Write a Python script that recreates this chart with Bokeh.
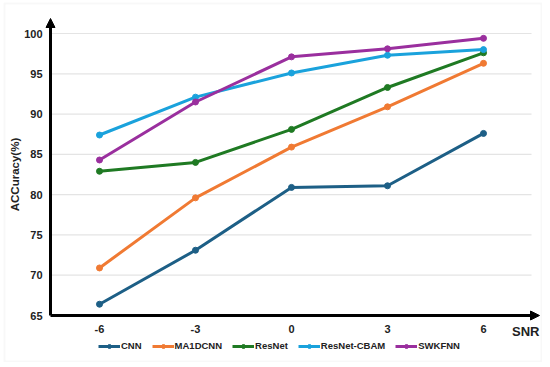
import math
from bokeh.plotting import figure
from bokeh.models import Arrow, NormalHead, Legend, LegendItem, BoxAnnotation
from bokeh.core.properties import value
from bokeh.embed import file_html
from bokeh.resources import INLINE

snr = [-6, -3, 0, 3, 6]
snr_labels = ["-6", "-3", "0", "3", "6"]
cnn = [66.4, 73.1, 80.9, 81.1, 87.6]
ma1dcnn = [70.9, 79.6, 85.9, 90.9, 96.3]
resnet = [82.9, 84.0, 88.1, 93.3, 97.6]
resnet_cbam = [87.4, 92.1, 95.1, 97.3, 98.0]
swkfnn = [84.3, 91.5, 97.1, 98.1, 99.4]
series_names = ["CNN", "MA1DCNN", "ResNet", "ResNet-CBAM", "SWKFNN"]
series_values = [cnn, ma1dcnn, resnet, resnet_cbam, swkfnn]
colors = ["#1D5F86", "#F07A33", "#1F7A23", "#1AA2DC", "#9A2F9E"]
y_ticks = [65, 70, 75, 80, 85, 90, 95, 100]
y_tick_labels = [str(t) for t in y_ticks]

FONT = value("Liberation Sans")
TXT = "#222222"

# layout geometry (pixels)
W, H = 542, 362
OX, OY = 1, 1              # content origin in the picture
PX = 32.0                  # px per SNR unit
PY = 282.0 / 35.0          # px per accuracy unit
x_start = -6 - (100 - OX) / PX
x_end = x_start + W / PX
y_end = 100 + (34 - OY) / PY
y_start = y_end - H / PY
XA = -6 - 49 / PX          # y axis position
XT = 6 + 56 / PX           # x arrow tip
XG = 6 + 48 / PX           # grid end
YA = y_ticks[0]
YT = 100 + 15 / PY         # y arrow tip

p = figure(width=W, height=H, x_range=(x_start, x_end), y_range=(y_start, y_end),
           output_backend="svg", toolbar_location=None, min_border=0)
p.xaxis.visible = False
p.yaxis.visible = False
p.grid.visible = False
p.outline_line_color = None

# light outer frame of the chart
p.add_layout(BoxAnnotation(left=-6 - 95 / PX, right=6 + 58 / PX,
                           top=100 + 30 / PY, bottom=65 - 46 / PY,
                           fill_alpha=0, line_color="#e8e8e8", line_width=2))

# horizontal gridlines
p.segment(x0=XA, x1=XG, y0=y_ticks[1:], y1=y_ticks[1:], line_color="#e4e4e4", line_width=1.2)

items = []
for name, vals, c in zip(series_names, series_values, colors):
    r1 = p.line(snr, vals, line_color=c, line_width=3)
    r2 = p.scatter(snr, vals, size=6, fill_color=c, line_color=c)
    items.append(LegendItem(label=name, renderers=[r1, r2]))

# axes drawn as arrows
p.add_layout(Arrow(end=NormalHead(size=9, fill_color="black", line_color="black"),
                   x_start=XA, y_start=YA, x_end=XA, y_end=YT,
                   line_color="black", line_width=3))
p.add_layout(Arrow(end=NormalHead(size=9, fill_color="black", line_color="black"),
                   x_start=XA, y_start=YA, x_end=XT, y_end=YA,
                   line_color="black", line_width=3))

# tick labels
p.text(x=[XA] * len(y_ticks), y=y_ticks, text=y_tick_labels, x_offset=-8,
       text_align="right", text_baseline="middle", text_font=FONT,
       text_font_style="bold", text_font_size="11px", text_color=TXT)
p.text(x=snr, y=[YA] * len(snr), text=snr_labels, y_offset=9,
       text_align="center", text_baseline="top", text_font=FONT,
       text_font_style="bold", text_font_size="11px", text_color=TXT)

# axis titles
p.text(x=[XA], y=[(y_ticks[0] + y_ticks[-1]) / 2], text=["ACCuracy(%)"], x_offset=-36,
       angle=math.pi / 2, text_align="center", text_baseline="middle", text_font=FONT,
       text_font_style="bold", text_font_size="11.5px", text_color=TXT)
p.text(x=[XT], y=[YA], text=["SNR"], y_offset=8,
       text_align="right", text_baseline="top", text_font=FONT,
       text_font_style="bold", text_font_size="13px", text_color=TXT)

legend = Legend(items=items, orientation="horizontal", location=(99 - OX, OY + H - 352),
                glyph_width=22, glyph_height=10, label_standoff=1, spacing=10,
                padding=0, margin=0, border_line_color=None, background_fill_alpha=0,
                label_text_font="Liberation Sans", label_text_font_style="bold",
                label_text_font_size="9.5px", label_text_color=TXT)
p.add_layout(legend)

open("out.html", "w").write(file_html(p, INLINE))
